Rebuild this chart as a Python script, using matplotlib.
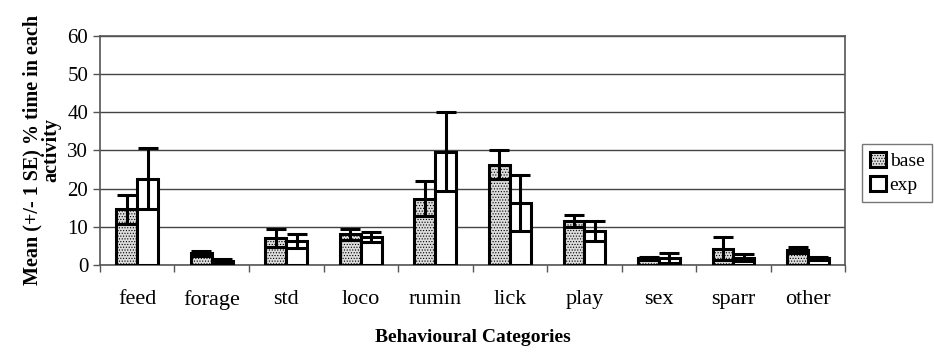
import matplotlib
matplotlib.use("Agg")
import matplotlib.pyplot as plt
import numpy as np

categories = ["feed", "forage", "std", "loco", "rumin", "lick", "play", "sex", "sparr", "other"]
base_mean = [14.6, 3.0, 7.0, 8.0, 17.4, 26.3, 11.5, 1.8, 4.3, 3.8]
base_se = [3.8, 0.7, 2.3, 1.4, 4.6, 3.7, 1.5, 0.4, 2.9, 0.8]
exp_mean = [22.6, 1.1, 6.2, 7.3, 29.7, 16.2, 9.0, 1.8, 1.9, 1.8]
exp_se = [8.0, 0.5, 1.8, 1.4, 10.4, 7.4, 2.6, 1.3, 0.9, 0.4]

plt.rcParams["font.family"] = ["Liberation Serif", "DejaVu Serif"]
plt.rcParams["hatch.color"] = "#8a8a8a"
plt.rcParams["hatch.linewidth"] = 0.5

fig = plt.figure(figsize=(9.34, 3.59), dpi=100)
ax = fig.add_axes([0.107, 0.262, 0.798, 0.638])

x = np.arange(len(categories))
w = 0.28

ax.bar(x - w / 2, base_mean, w, color="#dcdcdc", hatch="......", edgecolor="black",
       linewidth=2.2, label="base", zorder=3)
ax.bar(x + w / 2, exp_mean, w, color="white", edgecolor="black",
       linewidth=2.2, label="exp", zorder=3)
ax.errorbar(x - w / 2, base_mean, yerr=base_se, fmt="none", ecolor="black",
            elinewidth=2.2, capsize=7, capthick=2.2, zorder=4)
ax.errorbar(x + w / 2, exp_mean, yerr=exp_se, fmt="none", ecolor="black",
            elinewidth=2.2, capsize=7, capthick=2.2, zorder=4)

ax.set_xlim(-0.5, len(categories) - 0.5)
ax.set_ylim(0, 60)
ax.set_yticks(np.arange(0, 61, 10))
ax.yaxis.grid(True, color="#444444", linewidth=1.0, zorder=0)
ax.set_axisbelow(True)

ax.set_xticks(x)
ax.set_xticklabels(categories, fontsize=16)
ax.tick_params(axis="x", length=0, pad=18)
ax.set_xticks(np.arange(-0.5, len(categories), 1.0), minor=True)
ax.tick_params(axis="x", which="minor", length=5, width=1, direction="out", color="#555555")
ax.tick_params(axis="y", labelsize=15, length=5, width=1, color="#555555")

for side in ["left", "bottom", "top", "right"]:
    ax.spines[side].set_color("#555555")
    ax.spines[side].set_linewidth(1.2)

ax.set_xlabel("Behavioural Categories", fontsize=14, fontweight="bold", labelpad=14)
ax.set_ylabel("Mean (+/- 1 SE) % time in each\nactivity", fontsize=14.5,
              fontweight="bold", labelpad=4, linespacing=0.95)

fig.legend(loc="upper left", bbox_to_anchor=(0.913, 0.625), fontsize=14,
           frameon=True, fancybox=False, edgecolor="#555555",
           handlelength=0.8, handleheight=0.8, handletextpad=0.2,
           borderpad=0.4, labelspacing=0.3)

fig.savefig("out.png", dpi=100)
